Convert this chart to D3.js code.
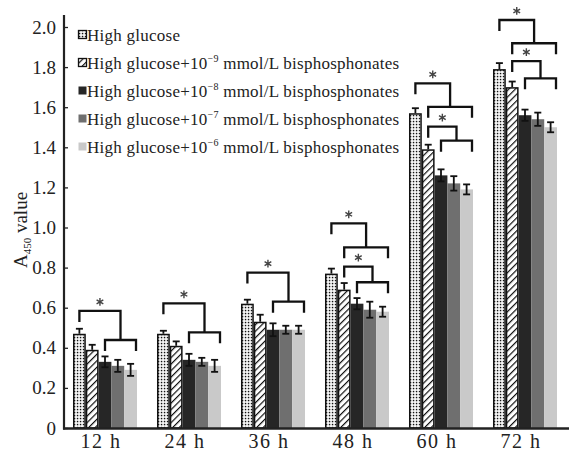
<!DOCTYPE html>
<html><head><meta charset="utf-8">
<script src="https://cdn.jsdelivr.net/npm/d3@7"></script>
<style>html,body{margin:0;padding:0;background:#fff;}svg{display:block;}
svg text{font-family:"Liberation Serif","DejaVu Serif",serif;}</style>
</head><body>
<svg id="chart" width="569" height="452"></svg>
<script>
const categories = ["12 h", "24 h", "36 h", "48 h", "60 h", "72 h"];
const seriesPrefix = "High glucose";
const seriesExponents = [null, "−9", "−8", "−7", "−6"];
const hgValues  = [0.47, 0.47, 0.62, 0.77, 1.57, 1.79];
const hg9Values = [0.39, 0.41, 0.53, 0.69, 1.39, 1.70];
const hg8Values = [0.33, 0.34, 0.49, 0.62, 1.26, 1.56];
const hg7Values = [0.31, 0.33, 0.49, 0.59, 1.22, 1.54];
const hg6Values = [0.29, 0.31, 0.49, 0.58, 1.19, 1.50];
const hgErr  = [0.025, 0.015, 0.020, 0.025, 0.025, 0.030];
const hg9Err = [0.025, 0.022, 0.035, 0.033, 0.023, 0.028];
const hg8Err = [0.027, 0.030, 0.032, 0.028, 0.030, 0.028];
const hg7Err = [0.030, 0.020, 0.020, 0.040, 0.036, 0.033];
const hg6Err = [0.030, 0.030, 0.020, 0.025, 0.025, 0.025];
const yTicks = [0, 0.2, 0.4, 0.6, 0.8, 1.0, 1.2, 1.4, 1.6, 1.8, 2.0];
const yTickLabels = ["0", "0.2", "0.4", "0.6", "0.8", "1.0", "1.2", "1.4", "1.6", "1.8", "2.0"];
// significance brackets: group, reference bar, first bar of compared set, upper level, lower level
const sigGroup    = [0, 1, 2, 3, 3, 4, 4, 5, 5];
const sigFrom     = [0, 0, 0, 0, 1, 0, 1, 0, 1];
const sigToStart  = [2, 2, 2, 1, 2, 1, 2, 1, 2];
const sigUpper    = [0.584, 0.622, 0.775, 1.021, 0.805, 1.719, 1.503, 2.035, 1.830];
const sigLower    = [0.439, 0.477, 0.630, 0.901, 0.727, 1.602, 1.433, 1.919, 1.744];

const seriesValues = [hgValues, hg9Values, hg8Values, hg7Values, hg6Values];
const seriesErrors = [hgErr, hg9Err, hg8Err, hg7Err, hg6Err];
const seriesIdx = d3.range(seriesValues.length);

const svg = d3.select("#chart");

const defs = svg.append("defs");
const dots = defs.append("pattern").attr("id", "dots").attr("patternUnits", "userSpaceOnUse")
  .attr("width", 3).attr("height", 3);
dots.append("rect").attr("width", 3).attr("height", 3).attr("fill", "#fff");
dots.append("rect").attr("x", 0.8).attr("y", 0.8).attr("width", 1.5).attr("height", 1.5).attr("fill", "#111");
const hatch = defs.append("pattern").attr("id", "hatch").attr("patternUnits", "userSpaceOnUse")
  .attr("width", 4.6).attr("height", 4.6).attr("patternTransform", "rotate(45)");
hatch.append("rect").attr("width", 4.6).attr("height", 4.6).attr("fill", "#fff");
hatch.append("line").attr("x1", 0).attr("y1", 0).attr("x2", 0).attr("y2", 4.6)
  .attr("stroke", "#111").attr("stroke-width", 2.4);

const fills = ["url(#dots)", "url(#hatch)", "#262626", "#6f6f6f", "#c9c9c9"];
const strokes = ["#111", "#111", "none", "none", "none"];

const y = d3.scaleLinear().domain([0, 2]).range([428, 27]);
const x = d3.scaleBand().domain(categories).range([63, 567]).paddingInner(0.238).paddingOuter(0.119);
const xs = d3.scaleBand().domain(seriesIdx).range([0, x.bandwidth()]).padding(0);

// bars
const groups = svg.append("g").selectAll("g").data(categories).join("g")
  .attr("transform", d => `translate(${x(d)},0)`);
groups.each(function(cat, ci) {
  const g = d3.select(this);
  seriesIdx.forEach(si => {
    const v = seriesValues[si][ci];
    const inset = strokes[si] === "none" ? 0 : 0.75;
    g.append("rect")
      .attr("x", xs(si) + inset).attr("y", y(v) + inset)
      .attr("width", xs.bandwidth() - 2 * inset).attr("height", y(0) - y(v) - inset)
      .attr("fill", fills[si]).attr("stroke", strokes[si]).attr("stroke-width", 1.5);
  });
  seriesIdx.forEach(si => {
    const v = seriesValues[si][ci], e = seriesErrors[si][ci];
    const cx = xs(si) + xs.bandwidth() / 2;
    const lo = si < 2 ? v : v - e;
    const eg = g.append("g").attr("stroke", "#111").attr("stroke-width", 1.8);
    eg.append("line").attr("x1", cx).attr("x2", cx).attr("y1", y(lo)).attr("y2", y(v + e));
    eg.append("line").attr("x1", cx - 3.5).attr("x2", cx + 3.5).attr("y1", y(v + e)).attr("y2", y(v + e));
    if (si >= 2) eg.append("line").attr("x1", cx - 3.5).attr("x2", cx + 3.5).attr("y1", y(v - e)).attr("y2", y(v - e));
  });
});

// significance brackets
const LEG = 11;
const sig = svg.append("g").attr("fill", "none").attr("stroke", "#111").attr("stroke-width", 2.3);
const star = d3.symbol().type(d3.symbolAsterisk).size(42);
sigGroup.forEach((gi, k) => {
  const gx = x(categories[gi]);
  const lowL = gx + xs(sigToStart[k]) + xs.bandwidth() / 2;
  const lowR = gx + xs(seriesIdx.length - 1) + xs.bandwidth() - 1;
  const yl = y(sigLower[k]);
  sig.append("path").attr("d", `M${lowL},${yl + LEG}V${yl}H${lowR}V${yl + LEG}`);
  const upL = gx + xs(sigFrom[k]) + xs.bandwidth() / 2;
  const upR = (lowL + lowR) / 2;
  const yu = y(sigUpper[k]);
  sig.append("path").attr("d", `M${upL},${yu + LEG}V${yu}H${upR}V${yl}`);
  svg.append("path").attr("d", star)
    .attr("transform", `translate(${(upL + upR) / 2},${yu - 9})`)
    .attr("fill", "none").attr("stroke", "#444").attr("stroke-width", 1.4);
});

// axes
const yAxis = d3.axisLeft(y).tickValues(yTicks).tickFormat((d, i) => yTickLabels[i]).tickSize(-4).tickPadding(8);
const ya = svg.append("g").attr("transform", "translate(64,0)").call(yAxis);
ya.attr("font-family", null);
ya.select(".domain").remove();
ya.selectAll(".tick line").attr("stroke", "#222").attr("stroke-width", 1.3);
ya.selectAll(".tick text").attr("font-size", 19).attr("fill", "#222");
svg.append("line").attr("x1", 64).attr("x2", 64).attr("y1", 15).attr("y2", 429.5)
  .attr("stroke", "#222").attr("stroke-width", 2.2);

const xAxis = d3.axisBottom(x).tickSize(0).tickPadding(6);
const xa = svg.append("g").attr("transform", "translate(0,428)").call(xAxis);
xa.attr("font-family", null);
xa.select(".domain").remove();
xa.selectAll(".tick text").attr("font-size", 20).attr("letter-spacing", 1.5).attr("fill", "#222").attr("dx", -4);
svg.append("line").attr("x1", 63).attr("x2", 569).attr("y1", 428.5).attr("y2", 428.5)
  .attr("stroke", "#222").attr("stroke-width", 2.6);

// y title
const yt = svg.append("text").attr("transform", "translate(27,230) rotate(-90)")
  .attr("text-anchor", "middle").attr("font-size", 19).attr("fill", "#222");
yt.append("tspan").text("A");
yt.append("tspan").attr("font-size", 11).attr("dy", 4).text("450");
yt.append("tspan").attr("dy", -4).text(" value");

// legend
const leg = svg.append("g").selectAll("g").data(seriesIdx).join("g")
  .attr("transform", (d, i) => `translate(78,${35 + i * 28})`);
leg.append("rect").attr("x", 0.5).attr("y", -4.5).attr("width", 8).attr("height", 8)
  .attr("fill", (d) => fills[d]).attr("stroke", d => strokes[d] === "none" ? "none" : "#111").attr("stroke-width", 1.3);
const lt = leg.append("text").attr("x", 9).attr("y", 5.5)
  .attr("font-size", 17).attr("letter-spacing", 0.25).attr("fill", "#222");
lt.each(function(d) {
  const t = d3.select(this);
  if (seriesExponents[d] === null) { t.text(seriesPrefix); return; }
  t.append("tspan").text(seriesPrefix + "+10");
  t.append("tspan").attr("font-size", 10).attr("dy", -7).text(seriesExponents[d]);
  t.append("tspan").attr("dy", 7).text(" mmol/L bisphosphonates");
});
</script>
</body></html>
